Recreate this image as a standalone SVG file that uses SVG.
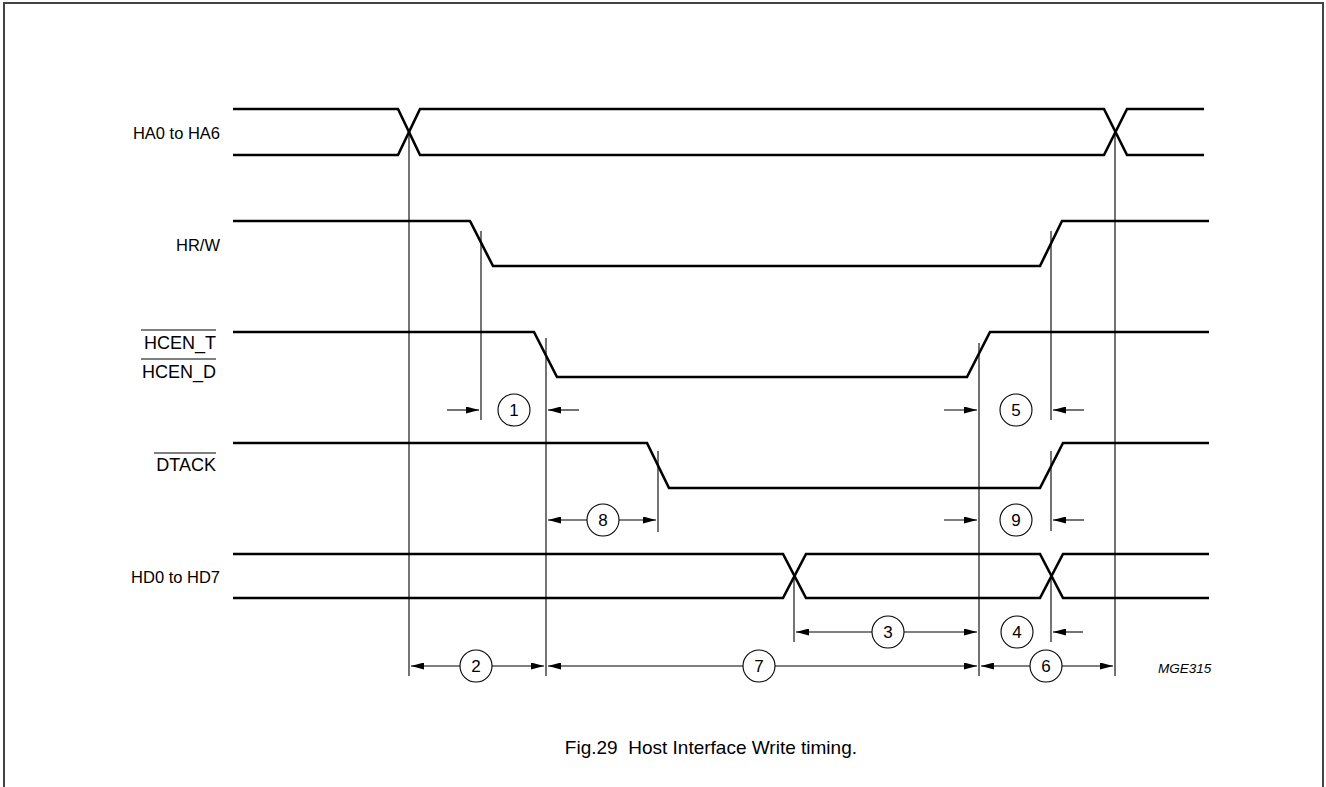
<svg xmlns="http://www.w3.org/2000/svg" width="1326" height="787" viewBox="0 0 1326 787">
<style>
.sig{fill:none;stroke:#000;stroke-width:2.6;stroke-linejoin:miter}
.mk{fill:none;stroke:#000;stroke-width:1.1}
.dim{fill:none;stroke:#000;stroke-width:1.1}
.circ{fill:#fff;stroke:#000;stroke-width:1.1}
.lbl{font-family:"Liberation Sans",Arial,sans-serif;font-size:16.5px;fill:#000}
.lbl2{font-family:"Liberation Sans",Arial,sans-serif;font-size:18px;fill:#000}
.num{font-family:"Liberation Sans",Arial,sans-serif;font-size:17px;fill:#000;text-anchor:middle}
.cap{font-family:"Liberation Sans",Arial,sans-serif;font-size:19px;fill:#000}
</style>
<defs>
<marker id="ah" viewBox="0 0 13 7" refX="13" refY="3.5" markerWidth="13" markerHeight="7" markerUnits="userSpaceOnUse" orient="auto">
<path d="M0,0 L13,3.5 L0,7 z" fill="#000"/>
</marker>
</defs>
<rect x="4" y="3" width="1319" height="900" fill="none" stroke="#444" stroke-width="2"/>

<g id="HA">
<text class="lbl" x="220" y="139" text-anchor="end">HA0 to HA6</text>
<path class="sig" d="M233,109 H398 L420,155 H1104 L1127,109 H1204"/>
<path class="sig" d="M233,155 H398 L420,109 H1104 L1127,155 H1204"/>
</g>
<g id="HRW">
<text class="lbl" x="220" y="251" text-anchor="end" font-size="17">HR/W</text>
<path class="sig" d="M233,221 H470 L493,266 H1040 L1062,221 H1209"/>
</g>
<g id="HCEN">
<text class="lbl2" x="216" y="349" text-anchor="end">HCEN_T</text>
<line class="mk" x1="141" y1="330" x2="216" y2="330"/>
<text class="lbl2" x="216" y="378" text-anchor="end">HCEN_D</text>
<line class="mk" x1="141" y1="359" x2="216" y2="359"/>
<path class="sig" d="M233,332 H534 L557,377 H967 L990,332 H1209"/>
</g>
<g id="DTACK">
<text class="lbl2" x="216" y="471" text-anchor="end">DTACK</text>
<line class="mk" x1="154" y1="453" x2="216" y2="453"/>
<path class="sig" d="M233,443 H647 L669,488 H1040 L1063,443 H1209"/>
</g>
<g id="HD">
<text class="lbl" x="220" y="583" text-anchor="end">HD0 to HD7</text>
<path class="sig" d="M233,554 H783 L806,598 H1040 L1063,554 H1209"/>
<path class="sig" d="M233,598 H783 L806,554 H1040 L1063,598 H1209"/>
</g>

<g id="connectors">
<line class="mk" x1="409" y1="132" x2="409" y2="676"/>
<line class="mk" x1="481" y1="231" x2="481" y2="420"/>
<line class="mk" x1="546" y1="338" x2="546" y2="676"/>
<line class="mk" x1="658" y1="451" x2="658" y2="532"/>
<line class="mk" x1="794" y1="577" x2="794" y2="642"/>
<line class="mk" x1="979" y1="343" x2="979" y2="676"/>
<line class="mk" x1="1051" y1="231" x2="1051" y2="420"/>
<line class="mk" x1="1051" y1="451" x2="1051" y2="531"/>
<line class="mk" x1="1051" y1="577" x2="1051" y2="642"/>
<line class="mk" x1="1115" y1="132" x2="1115" y2="676"/>

<line class="dim" x1="447" y1="410" x2="479" y2="410" marker-end="url(#ah)"/>
<line class="dim" x1="579" y1="410" x2="548" y2="410" marker-end="url(#ah)"/>
<line class="dim" x1="944" y1="410" x2="977" y2="410" marker-end="url(#ah)"/>
<line class="dim" x1="1084" y1="410" x2="1053" y2="410" marker-end="url(#ah)"/>
<line class="dim" x1="587" y1="520" x2="548" y2="520" marker-end="url(#ah)"/>
<line class="dim" x1="619" y1="520" x2="656" y2="520" marker-end="url(#ah)"/>
<line class="dim" x1="944" y1="520" x2="977" y2="520" marker-end="url(#ah)"/>
<line class="dim" x1="1084" y1="520" x2="1053" y2="520" marker-end="url(#ah)"/>
<line class="dim" x1="872" y1="632" x2="796" y2="632" marker-end="url(#ah)"/>
<line class="dim" x1="904" y1="632" x2="977" y2="632" marker-end="url(#ah)"/>
<line class="dim" x1="1083" y1="632" x2="1053" y2="632" marker-end="url(#ah)"/>
<line class="dim" x1="460" y1="666" x2="411" y2="666" marker-end="url(#ah)"/>
<line class="dim" x1="492" y1="666" x2="544" y2="666" marker-end="url(#ah)"/>
<line class="dim" x1="743" y1="666" x2="548" y2="666" marker-end="url(#ah)"/>
<line class="dim" x1="775" y1="666" x2="977" y2="666" marker-end="url(#ah)"/>
<line class="dim" x1="1030" y1="666" x2="981" y2="666" marker-end="url(#ah)"/>
<line class="dim" x1="1062" y1="666" x2="1113" y2="666" marker-end="url(#ah)"/>
</g>

<g id="t1"><circle class="circ" cx="514" cy="410" r="16"/><text class="num" x="514" y="416">1</text></g>
<g id="t5"><circle class="circ" cx="1016" cy="410" r="16"/><text class="num" x="1016" y="416">5</text></g>
<g id="t8"><circle class="circ" cx="603" cy="520" r="16"/><text class="num" x="603" y="526">8</text></g>
<g id="t9"><circle class="circ" cx="1016" cy="520" r="16"/><text class="num" x="1016" y="526">9</text></g>
<g id="t3"><circle class="circ" cx="888" cy="632" r="16"/><text class="num" x="888" y="638">3</text></g>
<g id="t4"><circle class="circ" cx="1017" cy="632" r="16"/><text class="num" x="1017" y="638">4</text></g>
<g id="t2"><circle class="circ" cx="476" cy="666" r="16"/><text class="num" x="476" y="672">2</text></g>
<g id="t7"><circle class="circ" cx="759" cy="666" r="16"/><text class="num" x="759" y="672">7</text></g>
<g id="t6"><circle class="circ" cx="1046" cy="666" r="16"/><text class="num" x="1046" y="672">6</text></g>

<text x="1158" y="673" font-family="Liberation Sans, Arial, sans-serif" font-size="13.5" font-style="italic">MGE315</text>
<text class="cap" x="857" y="754" text-anchor="end">Fig.29&#160; Host Interface Write timing.</text>
</svg>
